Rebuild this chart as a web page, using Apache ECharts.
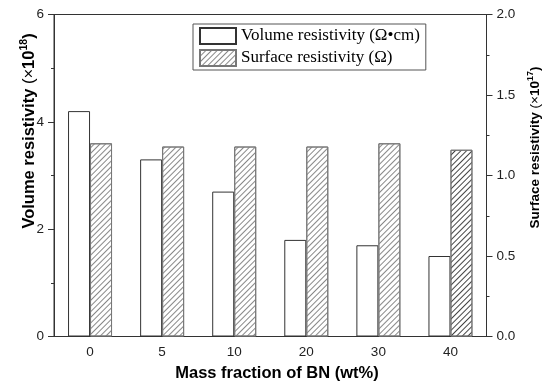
<!DOCTYPE html>
<html><head><meta charset="utf-8">
<script src="https://cdn.jsdelivr.net/npm/echarts@6/dist/echarts.min.js"></script>
<style>html,body{margin:0;padding:0;background:#fff}#c{width:550px;height:381px}</style>
</head><body><div id="c"></div>
<script>
const categories = ['0', '5', '10', '20', '30', '40'];
const volumeValues = [4.2, 3.3, 2.7, 1.8, 1.7, 1.5];
const surfaceValues = [1.20, 1.18, 1.18, 1.18, 1.20, 1.16];
const leftTicks = [0, 2, 4, 6];
const rightTicks = [0.0, 0.5, 1.0, 1.5, 2.0];

const chart = echarts.init(document.getElementById('c'), null, {renderer: 'canvas'});
const axisColor = '#333';
const hatch = {symbol: 'rect', symbolSize: 1, dashArrayX: [1, 0], dashArrayY: [1, 3], rotation: -Math.PI / 4, color: '#888'};
const hatchDark = Object.assign({}, hatch, {color: '#444'});

const option = {
  animation: false,
  backgroundColor: '#fff',
  grid: {left: 54, right: 63.5, top: 14.5, bottom: 44.5, show: true, borderColor: axisColor, borderWidth: 1, backgroundColor: 'transparent'},
  legend: {
    left: 193, top: 24, orient: 'vertical', itemWidth: 36, itemHeight: 16, itemGap: 4,
    padding: [3, 6, 3, 6], borderColor: '#555', borderWidth: 1, backgroundColor: '#fff',
    textStyle: {fontFamily: 'Liberation Serif', fontSize: 17, color: '#000'},
    data: [{name: 'Volume resistivity (Ω•cm)', icon: 'rect'}, {name: 'Surface resistivity (Ω)', icon: 'rect'}]
  },
  xAxis: [{
    type: 'category', data: categories, boundaryGap: true,
    axisLine: {lineStyle: {color: axisColor}},
    axisTick: {alignWithLabel: true, length: 6, lineStyle: {color: axisColor}},
    axisLabel: {color: '#222', fontFamily: 'Liberation Sans', fontSize: 13.5, margin: 9}
  }, {
    type: 'category', data: categories, boundaryGap: true, position: 'bottom',
    axisLine: {show: false},
    axisTick: {length: 3, lineStyle: {color: axisColor}},
    axisLabel: {show: false}
  }],
  yAxis: [{
    type: 'value', min: 0, max: 6, interval: 2,
    axisLine: {show: true, lineStyle: {color: axisColor}},
    axisTick: {show: true, length: 6, lineStyle: {color: axisColor}},
    minorTick: {show: true, splitNumber: 2, length: 3, lineStyle: {color: axisColor}},
    splitLine: {show: false},
    axisLabel: {color: '#222', fontFamily: 'Liberation Sans', fontSize: 13.5, margin: 10,
      formatter: v => leftTicks.includes(v) ? String(v) : ''}
  }, {
    type: 'value', min: 0, max: 2, interval: 0.5, position: 'right',
    axisLine: {show: true, lineStyle: {color: axisColor}},
    axisTick: {show: true, length: 6, lineStyle: {color: axisColor}},
    minorTick: {show: true, splitNumber: 2, length: 3, lineStyle: {color: axisColor}},
    splitLine: {show: false},
    axisLabel: {color: '#222', fontFamily: 'Liberation Sans', fontSize: 13.5, margin: 10,
      formatter: v => rightTicks.includes(v) ? v.toFixed(1) : ''}
  }],
  series: [{
    name: 'Volume resistivity (Ω•cm)', type: 'bar', yAxisIndex: 0, data: volumeValues,
    barWidth: 22, barGap: '0%',
    itemStyle: {color: '#fff', borderColor: '#333', borderWidth: 1}
  }, {
    name: 'Surface resistivity (Ω)', type: 'bar', yAxisIndex: 1,
    data: surfaceValues.map((v, i) => i === surfaceValues.length - 1 ? {value: v, itemStyle: {decal: hatchDark}} : v),
    barWidth: 22, barGap: '0%',
    itemStyle: {color: '#fff', borderColor: '#777', borderWidth: 1, decal: hatch}
  }],
  graphic: [{
    type: 'text', x: 29, y: 131, rotation: Math.PI / 2,
    style: {
      text: '{b|Volume resistivity }{n|(×}{b|10}{s|18}{b|)}',
      align: 'center', verticalAlign: 'middle', fill: '#000',
      rich: {
        b: {fontFamily: 'Liberation Sans', fontWeight: 'bold', fontSize: 16.5, fill: '#000'},
        n: {fontFamily: 'Liberation Sans', fontSize: 16.5, fill: '#000'},
        s: {fontFamily: 'Liberation Sans', fontWeight: 'bold', fontSize: 10.5, fill: '#000', padding: [0, 0, 9, 0]}
      }
    }
  }, {
    type: 'text', x: 535, y: 147.5, rotation: Math.PI / 2,
    style: {
      text: '{b|Surface resistivity }{n|(×}{b|10}{s|17}{b|)}',
      align: 'center', verticalAlign: 'middle', fill: '#000',
      rich: {
        b: {fontFamily: 'Liberation Sans', fontWeight: 'bold', fontSize: 13.5, fill: '#000'},
        n: {fontFamily: 'Liberation Sans', fontSize: 13.5, fill: '#000'},
        s: {fontFamily: 'Liberation Sans', fontWeight: 'bold', fontSize: 9, fill: '#000', padding: [0, 0, 8, 0]}
      }
    }
  }, {
    type: 'text', x: 277, y: 373,
    style: {
      text: 'Mass fraction of BN (wt%)', align: 'center', verticalAlign: 'middle',
      fontFamily: 'Liberation Sans', fontWeight: 'bold', fontSize: 16.5, fill: '#000'
    }
  }]
};
chart.setOption(option);
</script>
</body></html>
